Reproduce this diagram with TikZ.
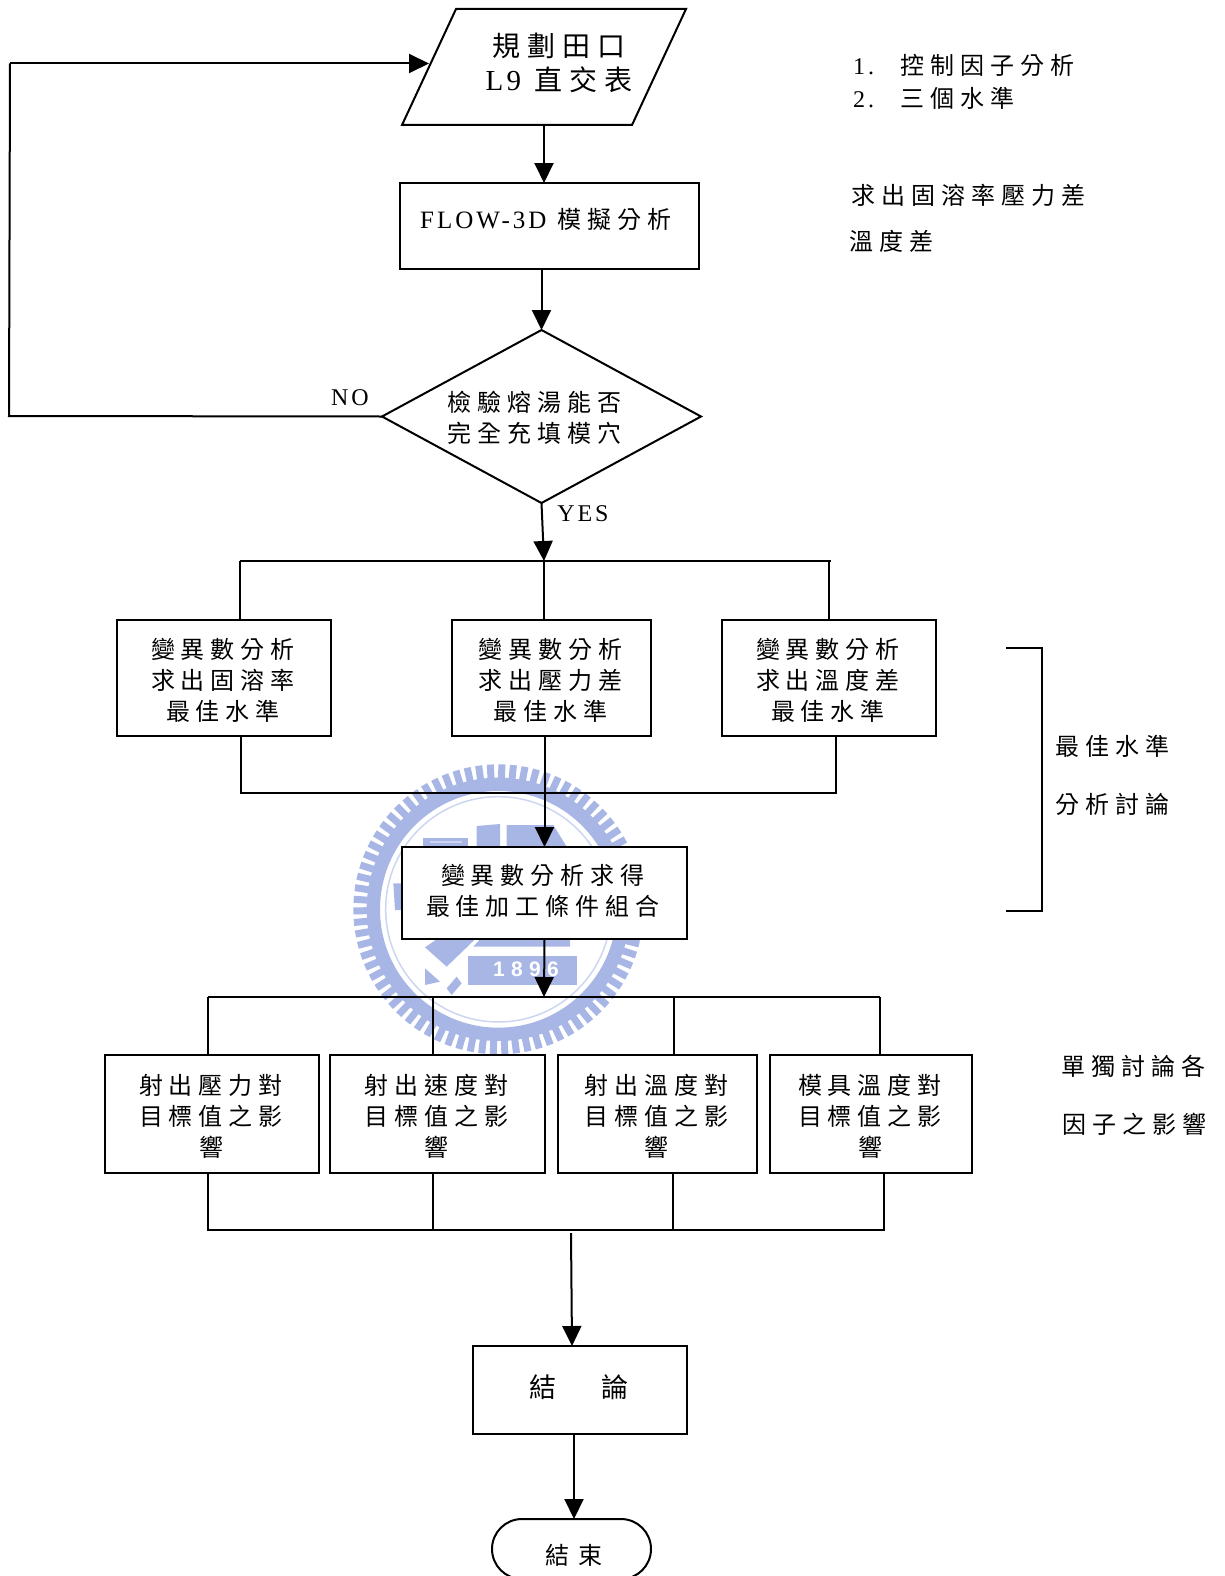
\documentclass[tikz,border=0pt]{standalone}
\usepackage{fontspec}
\usetikzlibrary{arrows.meta,shapes.geometric,shapes.misc}
\setmainfont{Liberation Serif}
\newfontfamily\cjk[LetterSpace=25]{Noto Sans CJK TC}
\newfontfamily\lat[LetterSpace=12]{Liberation Serif}
\newfontfamily\wmf[LetterSpace=30]{Liberation Sans}
\definecolor{wm}{RGB}{168,182,230}
\definecolor{wml}{RGB}{205,214,240}
\newcommand\TXT[3]{\raisebox{#2}[1pt][1pt]{\makebox[1pt][c]{\hspace{#1}\begin{tabular}{@{}c@{}}#3\end{tabular}}}}
\tikzset{
  base/.style={draw=black,line width=2pt,fill=white,inner sep=0pt,outer sep=0pt,
    font=\cjk\fontsize{24}{31}\selectfont,align=center},
  box/.style={base,rectangle,minimum height=#1},
  para/.style={inner sep=0pt,outer sep=0pt,rectangle,minimum width=230pt,minimum height=116pt,
    font=\cjk\fontsize{28}{33}\selectfont,align=center},
  dec/.style={base,diamond,minimum width=319pt,minimum height=173pt},
  term/.style={base,rounded rectangle,minimum width=159pt,minimum height=60pt},
  lab/.style={inner sep=0pt,anchor=west,font=\cjk\fontsize{24}{31}\selectfont},
  latlab/.style={inner sep=0pt,font=\lat\fontsize{24}{28}\selectfont},
  conn/.style={draw=black,line width=2pt},
  arr/.style={conn,-{Triangle[length=20pt,width=19pt]}}
}
\begin{document}
\begin{tikzpicture}[x=1pt,y=-1pt]
\useasboundingbox (0,0) rectangle (1224,1576);
% watermark
\begin{scope}[shift={(340,750)},scale=1/3]
  \fill[wm,even odd rule] (475,478) circle[radius=395] (475,478) circle[radius=355];
  \foreach \a in {0,4.6,...,359}
    \draw[wm,line width=7pt] ([shift={(\a:385)}]475,478) -- ([shift={(\a:435)}]475,478);
  \draw[wml,line width=1.5pt] (475,478) circle[radius=338];
  \fill[wm] (410,228) -- (480,222) -- (480,290) -- (410,290) -- cycle;
  \fill[wm] (500,225) -- (640,225) -- (680,290) -- (500,290) -- cycle;
  \fill[wm] (250,265) -- (385,265) -- (385,290) -- (250,290) -- cycle;
  \fill[wml] (270,272) rectangle (365,279);
  \fill[wm] (160,400) -- (185,400) -- (185,480) -- (165,480) -- cycle;
  \fill[wm] (420,568) -- (690,568) -- (690,590) -- (400,590) -- cycle;
  \fill[wm] (255,592) -- (290,568) -- (405,568) -- (320,650) -- cycle;
  \fill[wm] (385,618) -- (712,618) -- (712,705) -- (385,705) -- cycle;
  \fill[wm] (255,655) -- (300,695) -- (255,705) -- cycle;
  \fill[wm] (350,680) -- (365,700) -- (335,735) -- (320,715) -- cycle;
  \node[inner sep=0pt,text=white,font=\wmf\bfseries\fontsize{21}{21}\selectfont] (wmtext) at (558,657) {1896};
\end{scope}
% nodes
\node[para] (par) at (544,67) {\TXT{30pt}{-6pt}{規劃田口\\{\lat\fontsize{29}{33}\selectfont L9} 直交表}};
\draw[conn] ([xshift=27pt]par.north west) -- ([xshift=27pt]par.north east) -- ([xshift=-27pt]par.south east) -- ([xshift=-27pt]par.south west) -- cycle;
\node[box=86pt,minimum width=299pt] (flow) at (549.5,226) {\TXT{-7pt}{-3pt}{{\lat\fontsize{25}{31}\selectfont FLOW-3D} 模擬分析}};
\node[dec] (dia) at (541.5,416.5) {\TXT{-15pt}{-11pt}{檢驗熔湯能否\\完全充填模穴}};
\node[box=116pt,minimum width=214pt] (b1) at (224,678) {\TXT{-2pt}{-12pt}{變異數分析\\求出固溶率\\最佳水準}};
\node[box=116pt,minimum width=199pt] (b2) at (551.5,678) {\TXT{-2pt}{-12pt}{變異數分析\\求出壓力差\\最佳水準}};
\node[box=116pt,minimum width=214pt] (b3) at (829,678) {\TXT{-2pt}{-12pt}{變異數分析\\求出溫度差\\最佳水準}};
\node[box=92pt,minimum width=285pt] (mid) at (544.5,893) {\TXT{-3pt}{-7pt}{變異數分析求得\\最佳加工條件組合}};
\node[box=118pt,minimum width=214pt] (c1) at (212,1114) {\TXT{-2pt}{-12pt}{射出壓力對\\目標值之影\\響}};
\node[box=118pt,minimum width=215pt] (c2) at (437.5,1114) {\TXT{-2pt}{-12pt}{射出速度對\\目標值之影\\響}};
\node[box=118pt,minimum width=199pt] (c3) at (657.5,1114) {\TXT{-2pt}{-12pt}{射出溫度對\\目標值之影\\響}};
\node[box=118pt,minimum width=202pt] (c4) at (871,1114) {\TXT{-2pt}{-12pt}{模具溫度對\\目標值之影\\響}};
\node[box=88pt,minimum width=214pt] (con) at (580,1390) {\TXT{-2pt}{-7pt}{\fontsize{27}{31}\selectfont 結\hspace{46pt}論}};
\node[term] (end) at (571.5,1549) {\TXT{4pt}{-16pt}{結\hspace{9pt}束}};
% free labels
\node[lab] (n1) at (853,65) {\makebox[47pt][l]{\lat 1.}控制因子分析};
\node[lab] (n2) at (853,98) {\makebox[47pt][l]{\lat 2.}三個水準};
\node[lab] (s1) at (851,195) {求出固溶率壓力差};
\node[lab] (s2) at (849,241) {溫度差};
\node[lab] (o1) at (1055,746) {最佳水準};
\node[lab] (o2) at (1055,804) {分析討論};
\node[lab] (f1) at (1061,1066) {單獨討論各};
\node[lab] (f2) at (1062,1124) {因子之影響};
\node[latlab] (no) at (350,398) {NO};
\node[latlab] (yes) at (583,514) {YES};
% junctions
\coordinate (jn1) at (9,416);
\coordinate (jn2) at (10,63.5);
\coordinate (jt) at (544,561);
\coordinate (jl) at (240,561);
\coordinate (jr) at (831,561);
\coordinate (jr3) at (829,561);
\coordinate (jb1) at (241,793);
\coordinate (jb3) at (836,793);
\coordinate (jd) at (544,997);
\coordinate (jdl) at (208,997);
\coordinate (jdm) at (433,997);
\coordinate (jdn) at (674,997);
\coordinate (jdr) at (880,997);
\coordinate (je1) at (208,1230);
\coordinate (je2) at (433,1230);
\coordinate (je3) at (673,1230);
\coordinate (je4) at (884,1230);
\coordinate (jc) at (571,1233);
\coordinate (bk1) at (1006,648);
\coordinate (bk2) at (1042,648);
\coordinate (bk3) at (1042,911);
\coordinate (bk4) at (1006,911);
% connectors
\draw[arr] (par.south) -- (par.south |- flow.north);
\draw[arr] (dia.north |- flow.south) -- (dia.north);
\draw[conn] (dia.west) -- (jn1) -- (jn2);
\draw[arr] (jn2) -- (jn2 -| par.west);
\draw[arr] (dia.south) -- (jt);
\draw[conn] (jl) -- (jr);
\draw[conn] (jl) -- (jl |- b1.north);
\draw[conn] (jt) -- (jt |- b2.north);
\draw[conn] (jr3) -- (jr3 |- b3.north);
\draw[conn] (jb1 |- b1.south) -- (jb1) -- (jb3) -- (jb3 |- b3.south);
\draw[arr] (mid.north |- b2.south) -- (mid.north);
\draw[arr] (mid.south) -- (jd);
\draw[conn] (jdl) -- (jdr);
\draw[conn] (jdl) -- (jdl |- c1.north);
\draw[conn] (jdm) -- (jdm |- c2.north);
\draw[conn] (jdn) -- (jdn |- c3.north);
\draw[conn] (jdr) -- (jdr |- c4.north);
\draw[conn] (je1 |- c1.south) -- (je1) -- (je4) -- (je4 |- c4.south);
\draw[conn] (je2 |- c2.south) -- (je2);
\draw[conn] (je3 |- c3.south) -- (je3);
\draw[arr] (jc) -- ([xshift=-8pt]con.north);
\draw[arr] ([xshift=-6pt]con.south) -- ([xshift=2.5pt]end.north);
\draw[conn] (bk1) -- (bk2) -- (bk3) -- (bk4);
\end{tikzpicture}
\end{document}
